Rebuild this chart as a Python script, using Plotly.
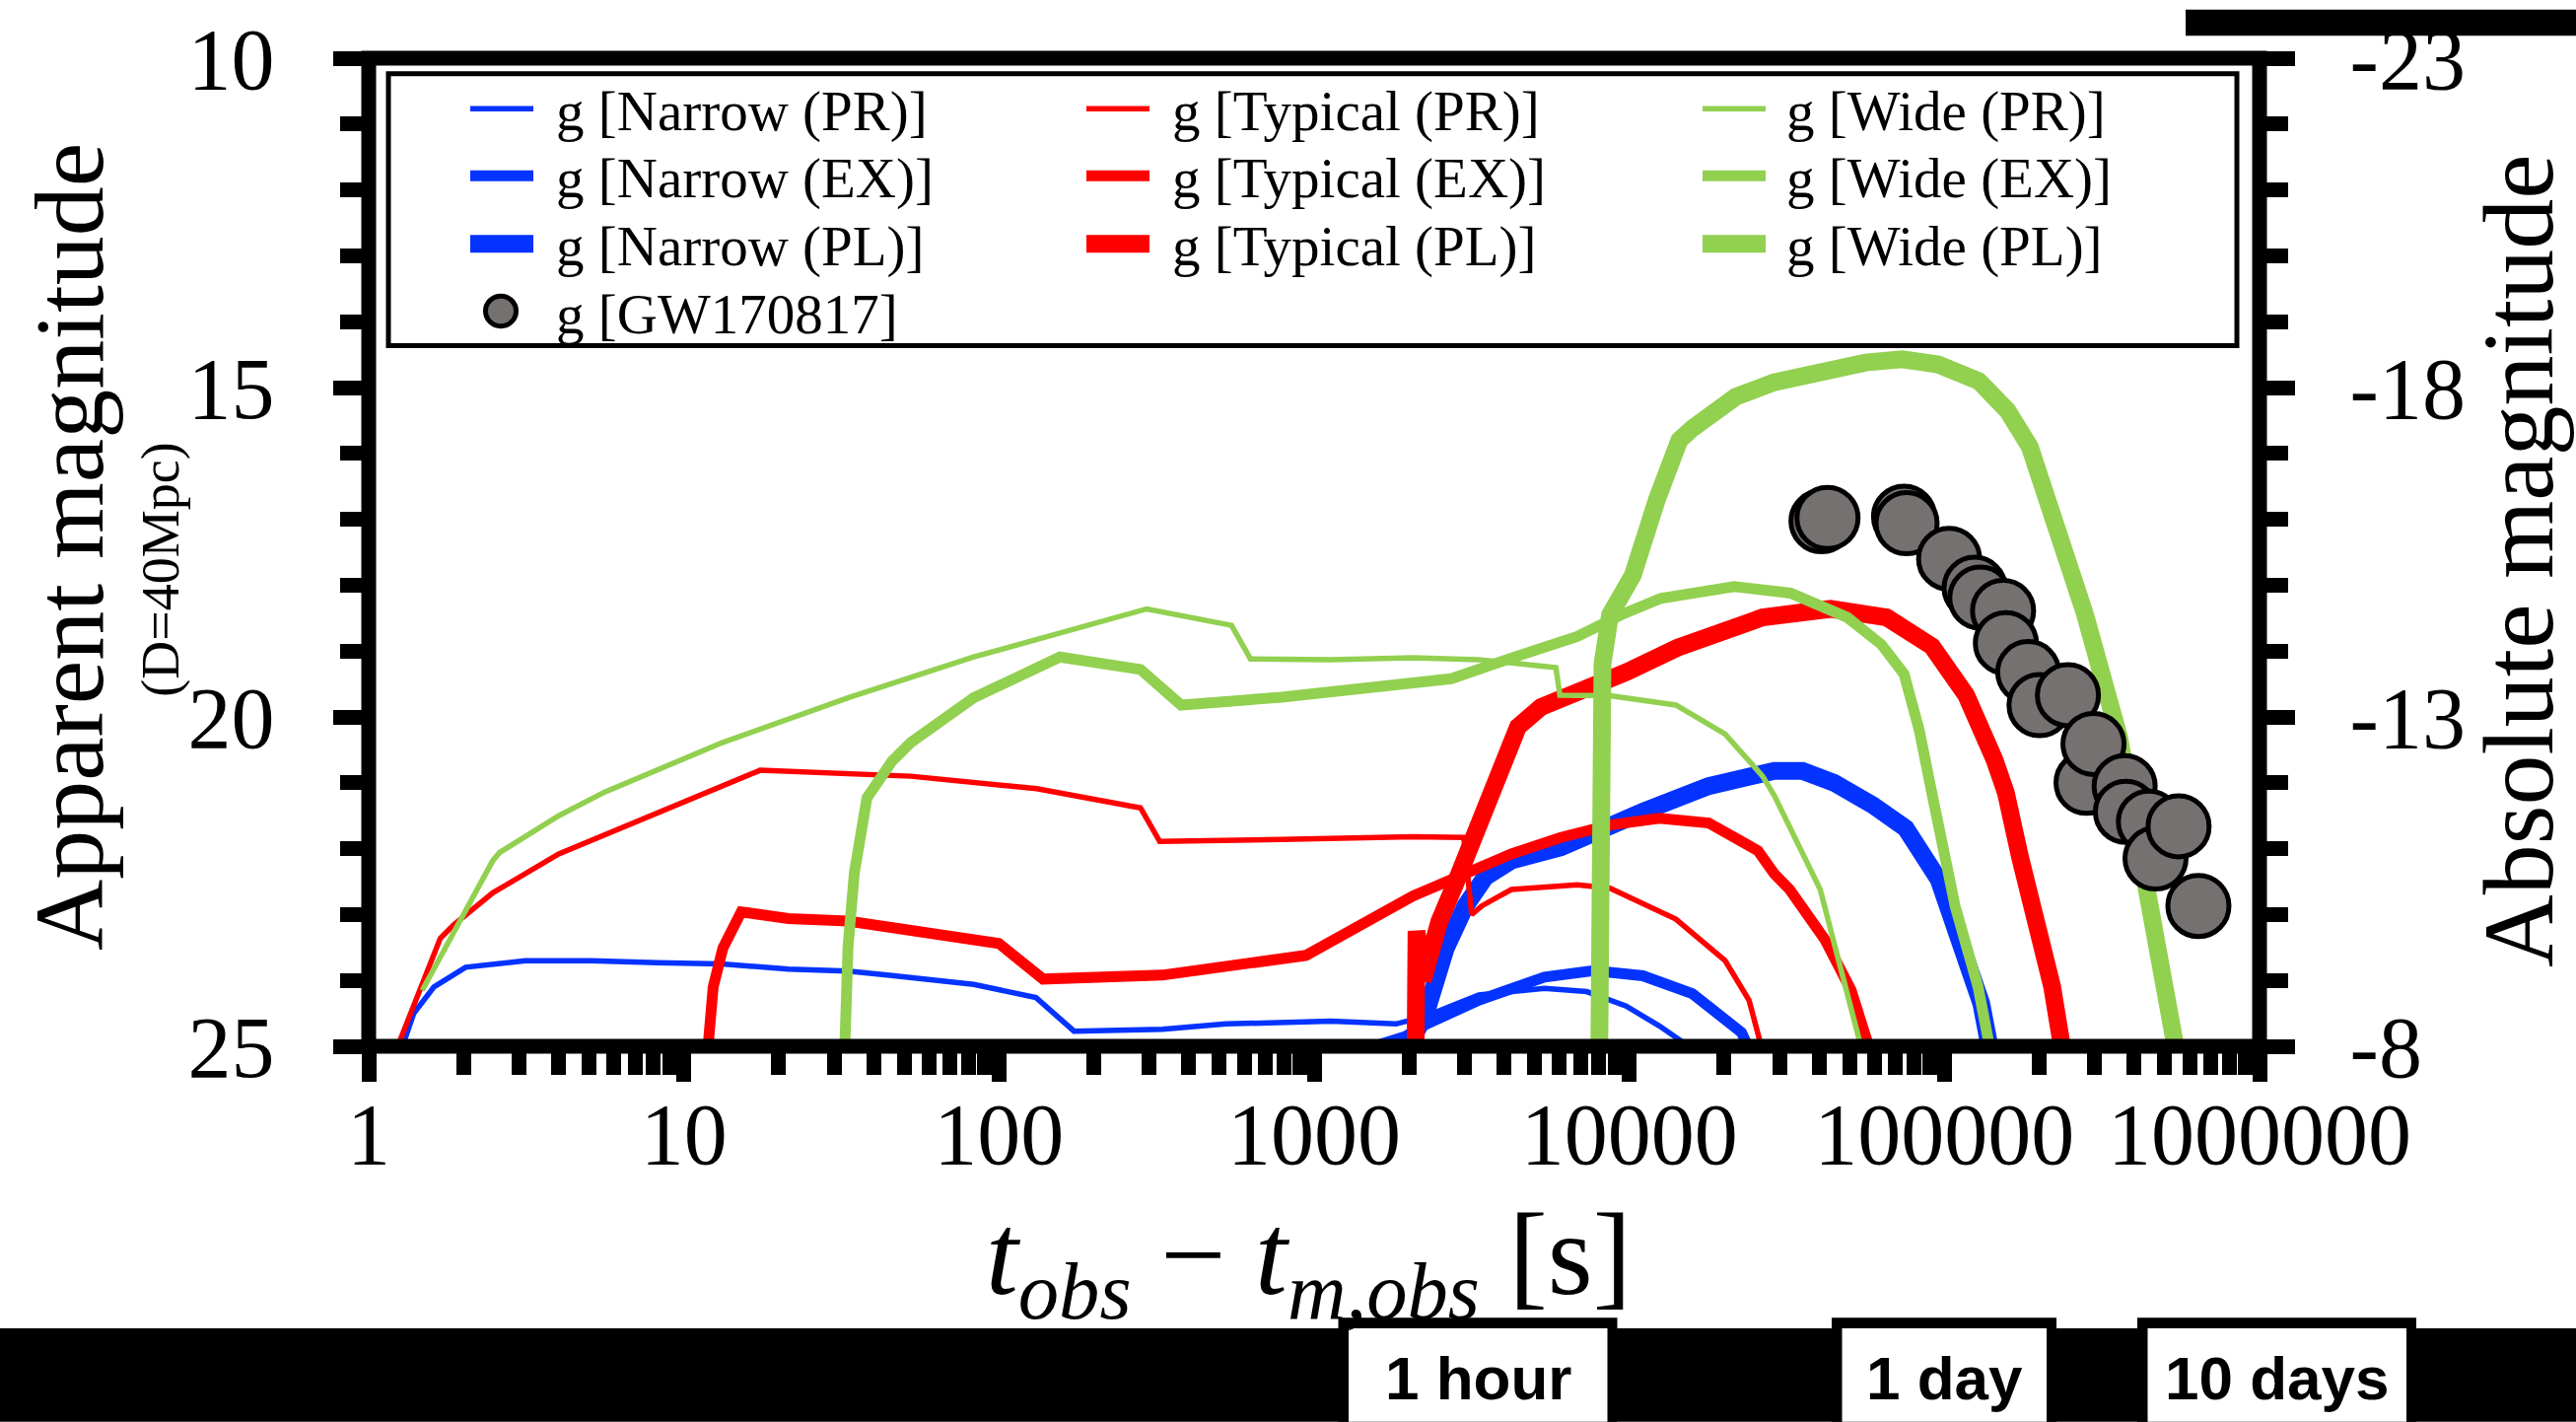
import plotly.graph_objects as go

# ---------------- data ----------------
# time since merger t_obs - t_m,obs [s] and apparent g magnitude (D = 40 Mpc)
t_narrow_pr = [1.28, 1.39, 1.61, 2.03, 3.14, 5.09, 8.24, 13.2, 21.5, 33.2, 44.2, 83.2, 131, 173, 330, 525,
               1130, 1820, 2240, 3330, 5380, 7330, 9770, 12450, 15450]
m_narrow_pr = [25.0, 24.5, 24.1, 23.80, 23.70, 23.70, 23.73, 23.75, 23.83, 23.86, 23.92, 24.06, 24.26, 24.77,
               24.74, 24.66, 24.62, 24.66, 24.55, 24.22, 24.12, 24.17, 24.39, 24.69, 25.0]

t_narrow_ex = [1550, 1950, 2210, 3330, 5380, 7710, 11040, 15850, 22700, 23800]
m_narrow_ex = [25.0, 24.85, 24.69, 24.30, 23.95, 23.85, 23.93, 24.2, 24.79, 25.0]

t_narrow_pl = [1995, 2265, 2618, 3020, 3491, 4227, 6067, 7709, 11040, 17860, 28840, 35480, 44670, 59290,
               75340, 95940, 113200, 130900, 139000]
m_narrow_pl = [25.0, 24.49, 23.51, 22.87, 22.43, 22.18, 21.98, 21.74, 21.44, 21.05, 20.82, 20.82, 21.0, 21.34,
               21.69, 22.47, 23.46, 24.35, 25.0]

t_typical_pr = [1.236, 1.462, 1.687, 1.858, 2.477, 4.009, 6.471, 11.8, 17.46, 52.5, 131.8, 281.2, 323.6,
                788.9, 2056, 2985, 3162, 3404, 4227, 6839, 8690, 14060, 20140, 23990, 26240]
m_typical_pr = [25.0, 24.1, 23.36, 23.16, 22.67, 22.08, 21.66, 21.14, 20.81, 20.9, 21.09, 21.38, 21.89,
                21.86, 21.82, 21.83, 23.0, 22.87, 22.62, 22.55, 22.6, 23.07, 23.7, 24.3, 25.0]

t_typical_ex = [11.94, 12.39, 13.3, 15.21, 21.48, 33.19, 100, 138, 329.6, 941.9, 2056, 3327, 4227, 6067,
                8690, 12450, 17860, 25590, 28840, 32280, 41880, 50580, 57540]
m_typical_ex = [25.0, 24.1, 23.51, 22.96, 23.06, 23.1, 23.44, 23.98, 23.92, 23.62, 22.72, 22.28, 22.08,
                21.83, 21.64, 21.54, 21.61, 22.03, 22.38, 22.62, 23.39, 24.15, 25.0]

t_typical_pl = [2099, 2113, 2213, 2495, 2812, 3327, 3750, 4436, 5248, 6516, 7889, 9795, 14220, 20140, 26490,
                43450, 65610, 91410, 117200, 144200, 156700, 173800, 197200, 219800, 236000]
m_typical_pl = [25.0, 23.25, 24.0, 23.11, 22.52, 21.64, 20.95, 20.15, 19.85, 19.67, 19.55, 19.32, 18.95,
                18.68, 18.49, 18.36, 18.49, 18.93, 19.67, 20.65, 21.15, 22.13, 23.11, 24.1, 25.0]

t_wide_pr = [1.479, 1.95, 2.477, 2.6, 3.162, 4.009, 5.61, 13.24, 33.19, 83.18, 294.4, 547, 628, 1130, 2056,
             3327, 5848, 6026, 8690, 14060, 20140, 26490, 28840, 40360, 54330]
m_wide_pr = [24.15, 23.11, 22.18, 22.06, 21.8, 21.5, 21.14, 20.39, 19.71, 19.09, 18.36, 18.61, 19.12, 19.13,
             19.10, 19.13, 19.25, 19.67, 19.68, 19.82, 20.26, 20.9, 21.19, 22.62, 25.0]

t_wide_ex = [32.43, 33.19, 34.75, 38.11, 45.8, 52.48, 83.18, 156, 281.2, 378.4, 788.9, 1130, 2723, 4266,
             6839, 9419, 12590, 21530, 32510, 49200, 63100, 74470, 83180, 91200, 108100, 127900, 139000]
m_wide_ex = [25.0, 23.49, 22.37, 21.23, 20.67, 20.39, 19.71, 19.09, 19.28, 19.82, 19.70, 19.62, 19.42, 19.1,
             18.78, 18.45, 18.2, 18.02, 18.12, 18.49, 18.9, 19.35, 20.2, 21.15, 22.87, 24.1, 25.0]

t_wide_pl = [8035, 8091, 8222, 8690, 9333, 10260, 12220, 14420, 15850, 16600, 17740, 21780, 28840, 39990,
             56230, 73450, 95500, 128500, 158500, 186600, 216300, 279300, 358100, 398100, 435500, 478600,
             540800]
m_wide_pl = [25.0, 20.5, 19.2, 18.45, 18.15, 17.85, 16.71, 15.8, 15.62, 15.55, 15.43, 15.14, 14.92, 14.75,
             14.62, 14.57, 14.65, 14.9, 15.35, 15.9, 16.8, 18.44, 20.3, 21.4, 22.5, 23.61, 25.0]

t_gw = [40740, 42560, 74470, 75860, 103500, 124700, 130000, 153500, 156700, 184500, 200400, 246600, 282500,
        297200, 373200, 376700, 445600, 467700, 553400, 639700]
m_gw = [17.03, 16.98, 16.96, 17.06, 17.60, 18.04, 18.19, 18.39, 18.88, 19.32, 19.82, 19.67, 21.0, 20.41,
        21.05, 21.44, 21.59, 22.15, 21.66, 22.87]

x_tickvals = [1, 10, 100, 1000, 10000, 100000, 1000000]
x_ticktext = ["1", "10", "100", "1000", "10000", "100000", "1000000"]
y_tickvals = [10, 15, 20, 25]
y2_tickvals = [-23, -18, -13, -8]
y2_ticktext = ["-23", "-18", "-13", "-8"]
dist_modulus = 33  # apparent - absolute at D = 40 Mpc

legend_names = [
    ["g [Narrow (PR)]", "g [Typical (PR)]", "g [Wide (PR)]"],
    ["g [Narrow (EX)]", "g [Typical (EX)]", "g [Wide (EX)]"],
    ["g [Narrow (PL)]", "g [Typical (PL)]", "g [Wide (PL)]"],
]
gw_name = "g [GW170817]"
time_marks = ["1 hour", "1 day", "10 days"]

# ---------------- style ----------------
BLUE = "#0433FF"
RED = "#FF0000"
GREEN = "#92D050"
GRAY = "#767171"
W_PR, W_EX, W_PL = 5.5, 11, 18
SERIF = "Liberation Serif, Times New Roman, Times, serif"
SANS = "Liberation Sans, Arial, Helvetica, sans-serif"

FIG_W, FIG_H = 2613, 1442
L_PX, R_PX, T_PX, B_PX = 374, 2292, 45, 1061


def px(x):
    return (x - L_PX) / (R_PX - L_PX)


def py(y):
    return (B_PX - y) / (B_PX - T_PX)


fig = go.Figure()

series = [
    (t_narrow_pr, m_narrow_pr, BLUE, W_PR, legend_names[0][0]),
    (t_narrow_ex, m_narrow_ex, BLUE, W_EX, legend_names[1][0]),
    (t_narrow_pl, m_narrow_pl, BLUE, W_PL, legend_names[2][0]),
    (t_typical_pr, m_typical_pr, RED, W_PR, legend_names[0][1]),
    (t_typical_ex, m_typical_ex, RED, W_EX, legend_names[1][1]),
    (t_typical_pl, m_typical_pl, RED, W_PL, legend_names[2][1]),
    (t_wide_pr, m_wide_pr, GREEN, W_PR, legend_names[0][2]),
    (t_wide_ex, m_wide_ex, GREEN, W_EX, legend_names[1][2]),
    (t_wide_pl, m_wide_pl, GREEN, W_PL, legend_names[2][2]),
]
for t, m, c, w, n in series:
    fig.add_trace(go.Scatter(x=t, y=m, mode="lines", name=n, showlegend=False,
                             line=dict(color=c, width=w)))

fig.add_trace(go.Scatter(x=t_gw, y=m_gw, mode="markers", name=gw_name, showlegend=False,
                         marker=dict(size=62, color=GRAY, line=dict(color="black", width=5))))

# absolute-magnitude axis (right)
fig.add_trace(go.Scatter(x=[None], y=[None], yaxis="y2", showlegend=False, hoverinfo="skip"))

tick_common = dict(ticks="outside", tickcolor="black", tickwidth=15, ticklen=35,
                   showgrid=False, zeroline=False, showline=False, ticklabeloverflow="allow",
                   tickfont=dict(family=SERIF, size=88, color="black"))
minor_common = dict(ticks="outside", tickcolor="black", tickwidth=15, ticklen=28, showgrid=False)

x_minor = [k * 10 ** n for n in range(6) for k in range(2, 10)]
y_minor = [v for v in range(11, 25) if v not in y_tickvals]
y2_minor = [v - dist_modulus for v in y_minor]

fig.update_layout(
    width=FIG_W, height=FIG_H,
    margin=dict(l=L_PX, r=FIG_W - R_PX, t=T_PX, b=FIG_H - B_PX, pad=0),
    paper_bgcolor="white", plot_bgcolor="white",
    showlegend=False,
    xaxis=dict(type="log", range=[0, 6], tickmode="array", tickvals=x_tickvals, ticktext=x_ticktext,
               ticklabelstandoff=-23,
               minor=dict(tickmode="array", tickvals=x_minor, **minor_common), **tick_common),
    yaxis=dict(range=[25, 10], tickmode="array", tickvals=y_tickvals,
               ticktext=[str(v) for v in y_tickvals], ticklabelstandoff=42,
               minor=dict(tickmode="array", tickvals=y_minor, **minor_common), **tick_common),
    yaxis2=dict(overlaying="y", side="right", anchor="x",
                range=[25 - dist_modulus, 10 - dist_modulus], tickmode="array",
                tickvals=y2_tickvals, ticktext=y2_ticktext, ticklabelstandoff=38,
                minor=dict(tickmode="array", tickvals=y2_minor, **minor_common), **tick_common),
)

shapes = []
# legend frame
shapes.append(dict(type="rect", xref="paper", yref="paper", x0=px(394), x1=px(2269), y0=py(340.5), y1=py(61),
                   line=dict(color="black", width=5), fillcolor="white", layer="below"))
col_x = [(477, 541), (1102, 1166), (1727, 1791)]
row_y = [97, 166, 236]
col_colors = [BLUE, RED, GREEN]
row_widths = [W_PR, W_EX, W_PL]
for r in range(3):
    for c in range(3):
        shapes.append(dict(type="line", xref="paper", yref="paper",
                           x0=px(col_x[c][0]), x1=px(col_x[c][1]), y0=py(row_y[r]), y1=py(row_y[r]),
                           line=dict(color=col_colors[c], width=row_widths[r]), layer="above"))
# GW legend marker
rr = 15.5
shapes.append(dict(type="circle", xref="paper", yref="paper", x0=px(508 - rr), x1=px(508 + rr),
                   y0=py(305 + rr), y1=py(305 - rr), line=dict(color="black", width=5), fillcolor=GRAY,
                   layer="above"))
# plot frame
shapes.append(dict(type="rect", xref="paper", yref="paper", x0=0, x1=1, y0=0, y1=1,
                   line=dict(color="black", width=15), layer="above"))
# bottom black band with time boxes
shapes.append(dict(type="rect", xref="paper", yref="paper", x0=px(0), x1=px(FIG_W), y0=py(FIG_H + 5), y1=py(1351),
                   line=dict(width=0), fillcolor="black", layer="above"))
boxes = [(1357.5, 1640.5), (1858, 2086), (2168, 2451)]
for (a, b) in boxes:
    shapes.append(dict(type="rect", xref="paper", yref="paper", x0=px(a), x1=px(b), y0=py(FIG_H + 5), y1=py(1340),
                       line=dict(width=0), fillcolor="black", layer="above"))
    shapes.append(dict(type="rect", xref="paper", yref="paper", x0=px(a + 10.5), x1=px(b - 10),
                       y0=py(FIG_H + 5), y1=py(1351), line=dict(width=0), fillcolor="white", layer="above"))
# top-right black bar
shapes.append(dict(type="rect", xref="paper", yref="paper", x0=px(2217), x1=px(FIG_W + 5), y0=py(22), y1=py(-5),
                   line=dict(width=0), fillcolor="black", layer="above"))
fig.update_layout(shapes=shapes)

ann = []
# legend texts
text_x = [562, 1187, 1810]
for r in range(3):
    for c in range(3):
        ann.append(dict(text=legend_names[r][c], x=px(text_x[c]), y=py(row_y[r] + 3), xref="paper", yref="paper",
                        xanchor="left", yanchor="middle", showarrow=False,
                        font=dict(family=SERIF, size=57, color="black")))
ann.append(dict(text=gw_name, x=px(text_x[0]), y=py(308), xref="paper", yref="paper",
                xanchor="left", yanchor="middle", showarrow=False,
                font=dict(family=SERIF, size=57, color="black")))
# axis titles
ann.append(dict(text="Apparent magnitude", x=px(70), y=py(548), xref="paper", yref="paper", textangle=-90,
                xanchor="center", yanchor="middle", showarrow=False,
                font=dict(family=SERIF, size=100, color="black")))
ann.append(dict(text="(D=40Mpc)", x=px(163), y=py(571), xref="paper", yref="paper", textangle=-90,
                xanchor="center", yanchor="middle", showarrow=False,
                font=dict(family=SERIF, size=54, color="black")))
ann.append(dict(text="Absolute magnitude", x=px(2555), y=py(562), xref="paper", yref="paper", textangle=-90,
                xanchor="center", yanchor="middle", showarrow=False,
                font=dict(family=SERIF, size=102, color="black")))
ann.append(dict(text="<i>t</i><sub><i>obs</i></sub> \u2212 <i>t</i><sub><i>m,obs</i></sub> [s]",
                x=px(1327), y=py(1284), xref="paper", yref="paper", xanchor="center", yanchor="middle",
                showarrow=False, font=dict(family=SERIF, size=118, color="black")))
# time boxes
for (a, b), label in zip(boxes, time_marks):
    ann.append(dict(text="<b>" + label + "</b>", x=px((a + b) / 2), y=py(1402), xref="paper", yref="paper",
                    xanchor="center", yanchor="middle", showarrow=False,
                    font=dict(family=SANS, size=62, color="black")))
fig.update_layout(annotations=ann)

fig.write_html("out.html", config={"displayModeBar": False})
